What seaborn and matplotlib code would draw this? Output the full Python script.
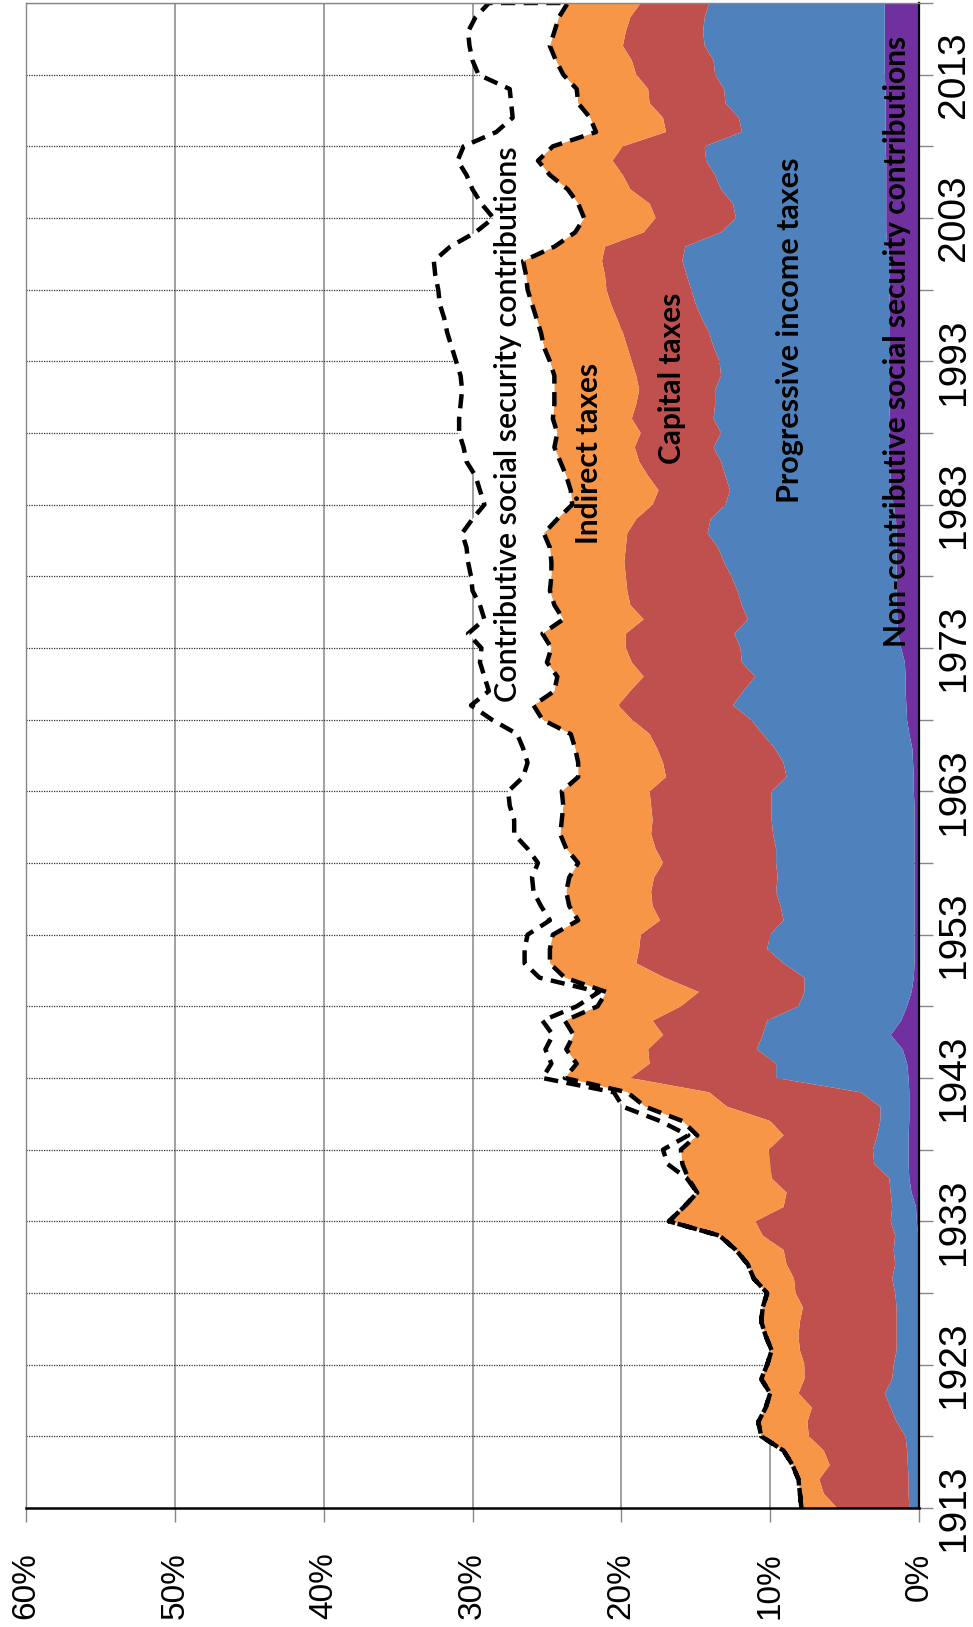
import numpy as np
import pandas as pd
import matplotlib
matplotlib.use("Agg")
import matplotlib.pyplot as plt
import seaborn as sns

years = list(range(1913, 2019))

# cumulative tops of each stacked band, % of national income
noncontrib_top = [
    0, 0, 0, 0, 0, 0, 0, 0, 0, 0,
    0, 0, 0, 0, 0, 0, 0, 0, 0, 0.05,
    0.15, 0.2, 0.5, 0.65, 0.7, 0.7, 0.7, 0.65, 0.65, 0.65,
    0.7, 0.8, 1.1, 1.9, 1.2, 0.8, 0.5, 0.35, 0.3, 0.3,
    0.3, 0.3, 0.3, 0.3, 0.3, 0.3, 0.3, 0.3, 0.3, 0.3,
    0.35, 0.35, 0.4, 0.45, 0.65, 0.8, 0.85, 0.9, 0.9, 0.95,
    1.2, 1.4, 1.45, 1.5, 1.5, 1.5, 1.5, 1.5, 1.5, 1.55,
    1.7, 1.9, 1.9, 1.95, 1.95, 1.95, 1.95, 2.0, 2.0, 2.0,
    2.0, 2.0, 2.0, 2.0, 2.0, 1.95, 1.95, 1.9, 2.1, 2.2,
    2.2, 2.2, 2.2, 2.2, 2.2, 2.25, 2.25, 2.25, 2.25, 2.25,
    2.3, 2.3, 2.3, 2.3, 2.3, 2.3]
income_top = [
    0.65, 0.7, 0.7, 0.75, 0.8, 0.9, 1.5, 1.9, 2.3, 1.8,
    1.7, 1.5, 1.5, 1.5, 1.5, 1.6, 1.8, 1.6, 1.7, 1.6,
    1.9, 1.8, 1.9, 2.0, 3.0, 3.1, 2.8, 2.6, 2.6, 3.9,
    9.6, 9.6, 10.9, 10.5, 10.2, 8.1, 7.7, 7.7, 9.1, 10.2,
    10.0, 9.1, 9.3, 9.6, 9.5, 9.6, 9.6, 9.8, 9.9, 9.9,
    9.9, 8.9, 9.1, 9.7, 10.5, 11.3, 12.5, 11.8, 11.0, 11.9,
    12.0, 12.4, 11.5, 11.9, 12.2, 12.6, 13.1, 13.5, 14.2, 14.0,
    13.0, 12.7, 13.0, 13.3, 13.8, 13.3, 13.8, 13.7, 13.7, 13.3,
    13.4, 13.8, 14.1, 14.6, 15.0, 15.3, 15.6, 15.9, 15.7, 13.3,
    12.3, 12.5, 13.3, 13.7, 14.3, 14.4, 11.9, 12.1, 13.0, 13.1,
    13.7, 13.8, 14.4, 14.5, 14.4, 14.1]
capital_top = [
    5.5, 6.4, 6.7, 6.0, 6.4, 7.4, 7.5, 7.2, 8.1, 7.7,
    7.7, 8.0, 8.1, 8.0, 7.8, 8.3, 8.4, 8.9, 9.1, 10.5,
    11.0, 9.1, 8.9, 9.9, 10.0, 10.1, 9.1, 10.0, 12.9, 14.1,
    19.4, 18.1, 18.2, 17.2, 17.9, 16.0, 14.8, 17.1, 19.0, 18.8,
    18.7, 17.4, 17.9, 18.0, 17.8, 17.2, 17.7, 18.0, 17.9, 18.0,
    18.1, 17.0, 17.2, 17.6, 18.1, 19.3, 20.2, 19.4, 18.5, 19.3,
    19.7, 19.7, 18.5, 19.4, 19.6, 19.7, 19.8, 19.7, 19.6, 19.0,
    17.9, 17.5, 18.2, 18.8, 19.1, 18.7, 19.3, 19.0, 18.8, 19.0,
    19.3, 19.6, 19.9, 20.3, 20.7, 21.0, 21.1, 21.3, 21.1, 18.5,
    17.7, 18.1, 19.4, 19.9, 20.6, 19.9, 17.0, 17.2, 18.1, 18.2,
    19.0, 19.3, 19.9, 19.7, 19.4, 18.7]
indirect_top = [
    7.9, 8.0, 8.1, 8.5, 9.1, 10.6, 10.8, 10.3, 10.0, 10.6,
    10.2, 9.9, 10.3, 10.6, 10.5, 10.2, 11.1, 11.5, 12.3, 13.4,
    16.8, 15.8, 14.9, 15.5, 15.9, 16.0, 14.9, 15.9, 18.4, 19.6,
    23.8, 23.0, 23.7, 23.2, 23.8, 21.6, 21.0, 23.8, 24.8, 24.8,
    24.6, 22.9, 23.5, 23.7, 23.5, 22.9, 23.7, 24.1, 24.0, 23.9,
    24.0, 22.9, 22.9, 23.1, 23.4, 25.3, 25.9, 24.5, 24.3, 25.0,
    24.7, 25.3, 23.9, 24.5, 24.8, 24.7, 24.7, 24.8, 25.2, 24.3,
    23.3, 23.4, 23.7, 24.1, 24.5, 24.3, 24.6, 24.5, 24.5, 24.5,
    24.8, 25.2, 25.4, 25.7, 26.0, 26.3, 26.4, 26.6, 24.5, 23.1,
    22.5, 22.9, 23.6, 24.8, 25.6, 24.6, 21.7, 22.1, 22.9, 23.0,
    23.9, 24.4, 24.8, 24.5, 24.2, 23.6]
total_top = [
    7.9, 8.0, 8.1, 8.5, 9.1, 10.6, 10.8, 10.3, 10.0, 10.6,
    10.2, 9.9, 10.3, 10.6, 10.5, 10.2, 11.1, 11.5, 12.3, 13.4,
    16.8, 15.8, 14.9, 15.6, 16.9, 17.2, 15.5, 17.4, 19.9, 20.5,
    25.3, 24.7, 25.1, 24.6, 25.3, 23.0, 21.5, 25.5, 26.5, 26.5,
    26.3, 24.8, 25.4, 25.9, 26.0, 25.6, 26.3, 27.2, 27.2, 27.5,
    27.6, 26.6, 26.3, 26.6, 27.0, 28.7, 30.1, 28.9, 29.2, 29.5,
    29.4, 30.3, 29.2, 29.5, 30.0, 30.1, 30.3, 30.4, 30.7, 30.0,
    29.2, 29.5, 29.8, 30.4, 30.6, 30.9, 30.9, 30.8, 30.7, 30.8,
    31.1, 31.4, 31.7, 31.9, 32.2, 32.3, 32.5, 32.6, 31.5, 29.8,
    28.6, 29.4, 30.0, 30.4, 31.0, 30.6, 28.4, 27.3, 27.4, 27.5,
    29.6, 30.0, 30.2, 30.3, 29.8, 28.9]

df = pd.DataFrame({"year": years, "noncontrib": noncontrib_top, "income": income_top,
                   "capital": capital_top, "indirect": indirect_top, "total": total_top})

sns.set_theme(style="white")
plt.rcParams["font.family"] = ["Liberation Sans", "DejaVu Sans"]

fig = plt.figure(figsize=(9.73, 16.27), dpi=100)
ax = fig.add_axes([26 / 973, 119 / 1627, 893 / 973, 1505 / 1627])

# gridlines under the areas
for v in range(10, 61, 10):
    ax.axvline(v, color="#868686", lw=1.1, zorder=0)
for y in range(1918, 2019, 5):
    ax.axhline(y, color="#303030", lw=0.9, ls=(0, (1, 1)), zorder=0)

bands = [
    (0, "noncontrib", "#7030A0"),
    ("noncontrib", "income", "#4F81BD"),
    ("income", "capital", "#C0504D"),
    ("capital", "indirect", "#F79646"),
]
for lo, hi, col in bands:
    left = 0 if lo == 0 else df[lo]
    ax.fill_betweenx(df["year"], left, df[hi], facecolor=col, edgecolor="none", lw=0, zorder=2)

# contributive social security: white band with dashed outline
ax.fill_betweenx(df["year"], df["indirect"], df["total"], facecolor="white",
                 edgecolor="black", linewidth=3.2, linestyle=(0, (3.2, 1.9)), zorder=3)

ax.set_xlim(60, 0)
ax.set_ylim(1913, 2018)

ax.set_xticks(range(0, 61, 10))
ax.set_xticklabels([f"{v}%" for v in range(0, 61, 10)], rotation=90, fontsize=24,
                   family=["Liberation Sans"])
ax.set_yticks(range(1913, 2019, 5))
ax.set_yticklabels([str(y) if (y - 1913) % 10 == 0 else "" for y in range(1913, 2019, 5)],
                   rotation=90, va="center", fontsize=28, family=["Liberation Sans Narrow", "Liberation Sans"])
ax.yaxis.tick_right()
ax.tick_params(axis="x", bottom=True, length=10, width=1, color="#868686", pad=22, labelcolor="black")
ax.tick_params(axis="y", right=True, left=False, length=10, width=1, color="#868686", pad=2, labelcolor="black")

for side in ["left", "top"]:
    ax.spines[side].set_color("#868686")
    ax.spines[side].set_linewidth(1)
ax.spines["right"].set_color("black")
ax.spines["right"].set_linewidth(1.6)
ax.spines["bottom"].set_color("black")
ax.spines["bottom"].set_linewidth(1.8)
for s in ax.spines.values():
    s.set_zorder(5)

lab = dict(rotation=90, ha="center", va="center", family=["Lato", "DejaVu Sans"], color="black", zorder=6)
ax.text(27.6, 1988.6, "Contributive social security contributions", fontsize=22, fontweight="semibold", **lab)
ax.text(22.2, 1986.6, "Indirect taxes", fontsize=21.5, fontweight="bold", **lab)
ax.text(16.6, 1991.8, "Capital taxes", fontsize=21.5, fontweight="bold", **lab)
ax.text(8.7, 1995.2, "Progressive income taxes", fontsize=22, fontweight="bold", **lab)
ax.text(1.45, 1994.4, "Non-contributive social security contributions", fontsize=21.5, fontweight="bold", **lab)

fig.savefig("out.png", dpi=100)
